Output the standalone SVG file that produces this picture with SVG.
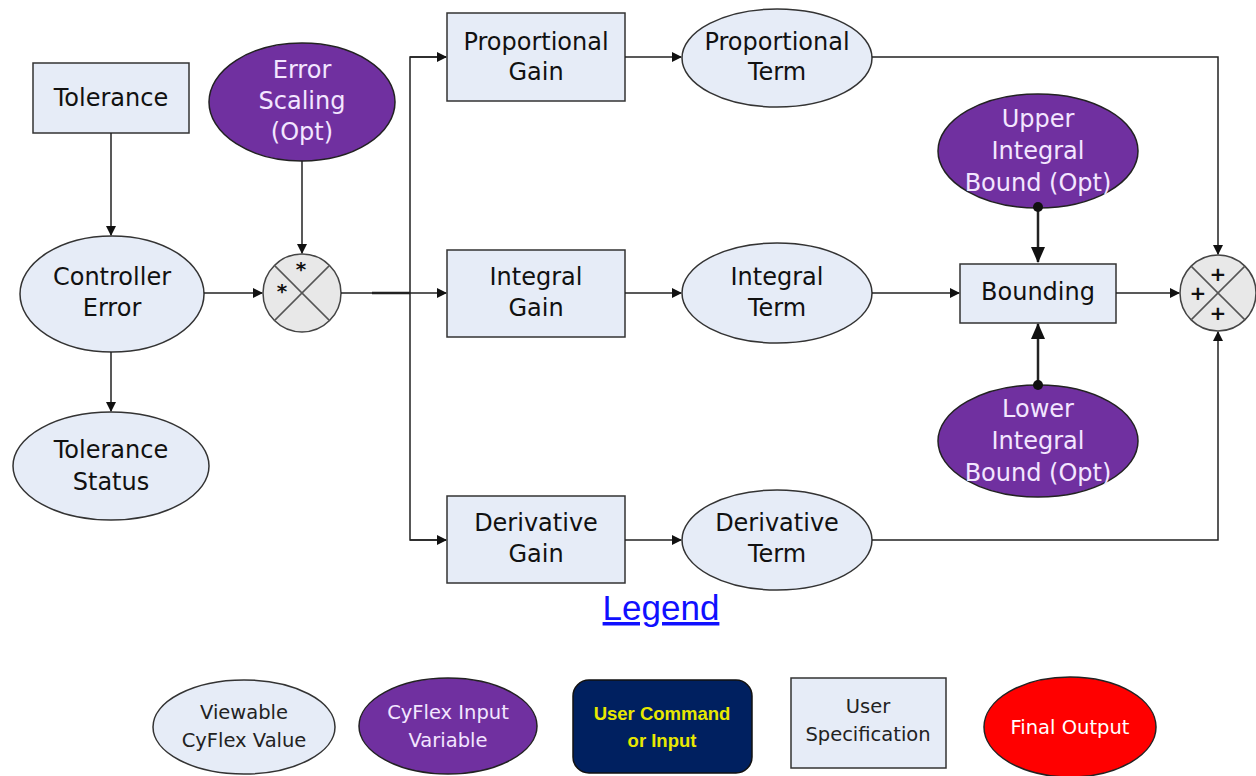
<svg xmlns="http://www.w3.org/2000/svg" width="1256" height="776" viewBox="0 0 1256 776">
  <style>
    .box { fill: #e6ecf7; stroke: #333; stroke-width: 1.5; }
    .val { fill: #e6ecf7; stroke: #333; stroke-width: 1.5; }
    .inp { fill: #7030a0; stroke: #222; stroke-width: 1.5; }
    .op { fill: #e8e8e8; stroke: #444; stroke-width: 1.5; }
    .opx { stroke: #555; stroke-width: 1.5; }
    .t { font-family: "DejaVu Sans", "Liberation Sans", sans-serif; font-size: 24px; fill: #111; text-anchor: middle; }
    .tw { font-family: "DejaVu Sans", "Liberation Sans", sans-serif; font-size: 24px; fill: #f3e6ff; text-anchor: middle; }
    .sym { font-family: "DejaVu Sans", sans-serif; font-size: 20px; font-weight: bold; fill: #111; text-anchor: middle; }
    .lg { font-family: "DejaVu Sans", "Liberation Sans", sans-serif; font-size: 19.5px; text-anchor: middle; }
    .edge { fill: none; stroke: #222; stroke-width: 1.5; }
    .edge2 { fill: none; stroke: #222; stroke-width: 2.5; }
  </style>
  <defs>
    <marker id="arr" markerWidth="10" markerHeight="10" refX="9" refY="5" orient="auto" markerUnits="userSpaceOnUse">
      <path d="M0,0 L10,5 L0,10 z" fill="#111"/>
    </marker>
    <marker id="arrB" markerWidth="16" markerHeight="14" refX="15" refY="7" orient="auto" markerUnits="userSpaceOnUse">
      <path d="M0,0 L16,7 L0,14 z" fill="#111"/>
    </marker>
    <marker id="dot" markerWidth="12" markerHeight="12" refX="6" refY="6" markerUnits="userSpaceOnUse">
      <circle cx="6" cy="6" r="5" fill="#111"/>
    </marker>
  </defs>

  <!-- main nodes -->
  <g id="tolerance">
    <rect class="box" x="33" y="63" width="156" height="70"/>
    <text class="t" x="111" y="106">Tolerance</text>
  </g>
  <g id="error-scaling">
    <ellipse class="inp" cx="302" cy="102" rx="93" ry="59"/>
    <text class="tw" x="302" y="78">Error</text>
    <text class="tw" x="302" y="109">Scaling</text>
    <text class="tw" x="302" y="140">(Opt)</text>
  </g>
  <g id="controller-error">
    <ellipse class="val" cx="112" cy="294" rx="92" ry="58"/>
    <text class="t" x="112" y="285">Controller</text>
    <text class="t" x="112" y="316">Error</text>
  </g>
  <g id="tolerance-status">
    <ellipse class="val" cx="111" cy="466" rx="98" ry="54"/>
    <text class="t" x="111" y="458">Tolerance</text>
    <text class="t" x="111" y="490">Status</text>
  </g>
  <g id="multiply">
    <circle class="op" cx="302" cy="293" r="39"/>
    <line class="opx" x1="274.4" y1="265.4" x2="329.6" y2="320.6"/>
    <line class="opx" x1="329.6" y1="265.4" x2="274.4" y2="320.6"/>
    <text class="sym" x="301" y="276">*</text>
    <text class="sym" x="282" y="298">*</text>
  </g>
  <g id="proportional-gain">
    <rect class="box" x="447" y="13" width="178" height="88"/>
    <text class="t" x="536" y="50">Proportional</text>
    <text class="t" x="536" y="80">Gain</text>
  </g>
  <g id="proportional-term">
    <ellipse class="val" cx="777" cy="58" rx="95" ry="49"/>
    <text class="t" x="777" y="50">Proportional</text>
    <text class="t" x="777" y="80">Term</text>
  </g>
  <g id="integral-gain">
    <rect class="box" x="447" y="250" width="178" height="87"/>
    <text class="t" x="536" y="285">Integral</text>
    <text class="t" x="536" y="316">Gain</text>
  </g>
  <g id="integral-term">
    <ellipse class="val" cx="777" cy="293" rx="95" ry="50"/>
    <text class="t" x="777" y="285">Integral</text>
    <text class="t" x="777" y="316">Term</text>
  </g>
  <g id="derivative-gain">
    <rect class="box" x="447" y="496" width="178" height="87"/>
    <text class="t" x="536" y="531">Derivative</text>
    <text class="t" x="536" y="562">Gain</text>
  </g>
  <g id="derivative-term">
    <ellipse class="val" cx="777" cy="540" rx="95" ry="50"/>
    <text class="t" x="777" y="531">Derivative</text>
    <text class="t" x="777" y="562">Term</text>
  </g>
  <g id="upper-bound">
    <ellipse class="inp" cx="1038" cy="151" rx="100" ry="57"/>
    <text class="tw" x="1038" y="127">Upper</text>
    <text class="tw" x="1038" y="159">Integral</text>
    <text class="tw" x="1038" y="191">Bound (Opt)</text>
  </g>
  <g id="bounding">
    <rect class="box" x="960" y="264" width="156" height="59"/>
    <text class="t" x="1038" y="300">Bounding</text>
  </g>
  <g id="lower-bound">
    <ellipse class="inp" cx="1038" cy="441" rx="100" ry="56"/>
    <text class="tw" x="1038" y="417">Lower</text>
    <text class="tw" x="1038" y="449">Integral</text>
    <text class="tw" x="1038" y="481">Bound (Opt)</text>
  </g>
  <g id="sum">
    <circle class="op" cx="1218" cy="293" r="38"/>
    <line class="opx" x1="1191.1" y1="266.1" x2="1244.9" y2="319.9"/>
    <line class="opx" x1="1244.9" y1="266.1" x2="1191.1" y2="319.9"/>
    <text class="sym" x="1218" y="281">+</text>
    <text class="sym" x="1198" y="300">+</text>
    <text class="sym" x="1218" y="320">+</text>
  </g>

  <!-- connectors, drawn over the node edges -->
  <g id="connectors">
    <line class="edge" x1="111" y1="133" x2="111" y2="235" marker-end="url(#arr)"/>
    <line class="edge" x1="302" y1="161" x2="302" y2="253" marker-end="url(#arr)"/>
    <line class="edge" x1="204" y1="293" x2="262" y2="293" marker-end="url(#arr)"/>
    <line class="edge" x1="111" y1="352" x2="111" y2="411" marker-end="url(#arr)"/>
    <line class="edge" x1="341" y1="293" x2="446" y2="293" marker-end="url(#arr)"/>
    <line x1="372" y1="293" x2="410" y2="293" stroke="#222" stroke-width="2.5"/>
    <polyline class="edge" points="446,57 410,57 410,540 446,540"/>
    <line class="edge" x1="410" y1="57" x2="446" y2="57" marker-end="url(#arr)"/>
    <line class="edge" x1="410" y1="540" x2="446" y2="540" marker-end="url(#arr)"/>
    <line class="edge" x1="625" y1="57" x2="681" y2="57" marker-end="url(#arr)"/>
    <line class="edge" x1="625" y1="293" x2="681" y2="293" marker-end="url(#arr)"/>
    <line class="edge" x1="625" y1="540" x2="681" y2="540" marker-end="url(#arr)"/>
    <polyline class="edge" points="872,57 1218,57 1218,254" marker-end="url(#arr)"/>
    <polyline class="edge" points="872,540 1218,540 1218,332" marker-end="url(#arr)"/>
    <line class="edge" x1="872" y1="293" x2="959" y2="293" marker-end="url(#arr)"/>
    <line class="edge" x1="1116" y1="293" x2="1179" y2="293" marker-end="url(#arr)"/>
    <line class="edge2" x1="1038" y1="207" x2="1038" y2="262" marker-start="url(#dot)" marker-end="url(#arrB)"/>
    <line class="edge2" x1="1038" y1="385" x2="1038" y2="324" marker-start="url(#dot)" marker-end="url(#arrB)"/>
  </g>

  <!-- legend -->
  <g id="legend-title">
    <text x="661" y="620" font-family="Liberation Sans, Arial, sans-serif" font-size="35" fill="#1010ff" text-anchor="middle" text-decoration="underline">Legend</text>
  </g>
  <g id="legend-viewable">
    <ellipse class="val" cx="244" cy="727" rx="91" ry="47"/>
    <text class="lg" x="244" y="719" fill="#222">Viewable</text>
    <text class="lg" x="244" y="747" fill="#222">CyFlex Value</text>
  </g>
  <g id="legend-input">
    <ellipse class="inp" cx="448" cy="726" rx="89" ry="48"/>
    <text class="lg" x="448" y="719" fill="#f3e6ff">CyFlex Input</text>
    <text class="lg" x="448" y="747" fill="#f3e6ff">Variable</text>
  </g>
  <g id="legend-command">
    <rect x="573" y="680" width="179" height="93" rx="16" fill="#002060" stroke="#111" stroke-width="1.5"/>
    <text x="662" y="720" font-family="Liberation Sans, Arial, sans-serif" font-size="18.5" font-weight="bold" fill="#e8e800" text-anchor="middle">User Command</text>
    <text x="662" y="747" font-family="Liberation Sans, Arial, sans-serif" font-size="18.5" font-weight="bold" fill="#e8e800" text-anchor="middle">or Input</text>
  </g>
  <g id="legend-spec">
    <rect class="box" x="791" y="678" width="155" height="90"/>
    <text class="lg" x="868" y="713" fill="#222">User</text>
    <text class="lg" x="868" y="741" fill="#222">Specification</text>
  </g>
  <g id="legend-output">
    <ellipse cx="1070" cy="727" rx="86" ry="50" fill="#ff0000" stroke="#222" stroke-width="1.5"/>
    <text class="lg" x="1070" y="734" fill="#fff" font-size="20">Final Output</text>
  </g>
</svg>
